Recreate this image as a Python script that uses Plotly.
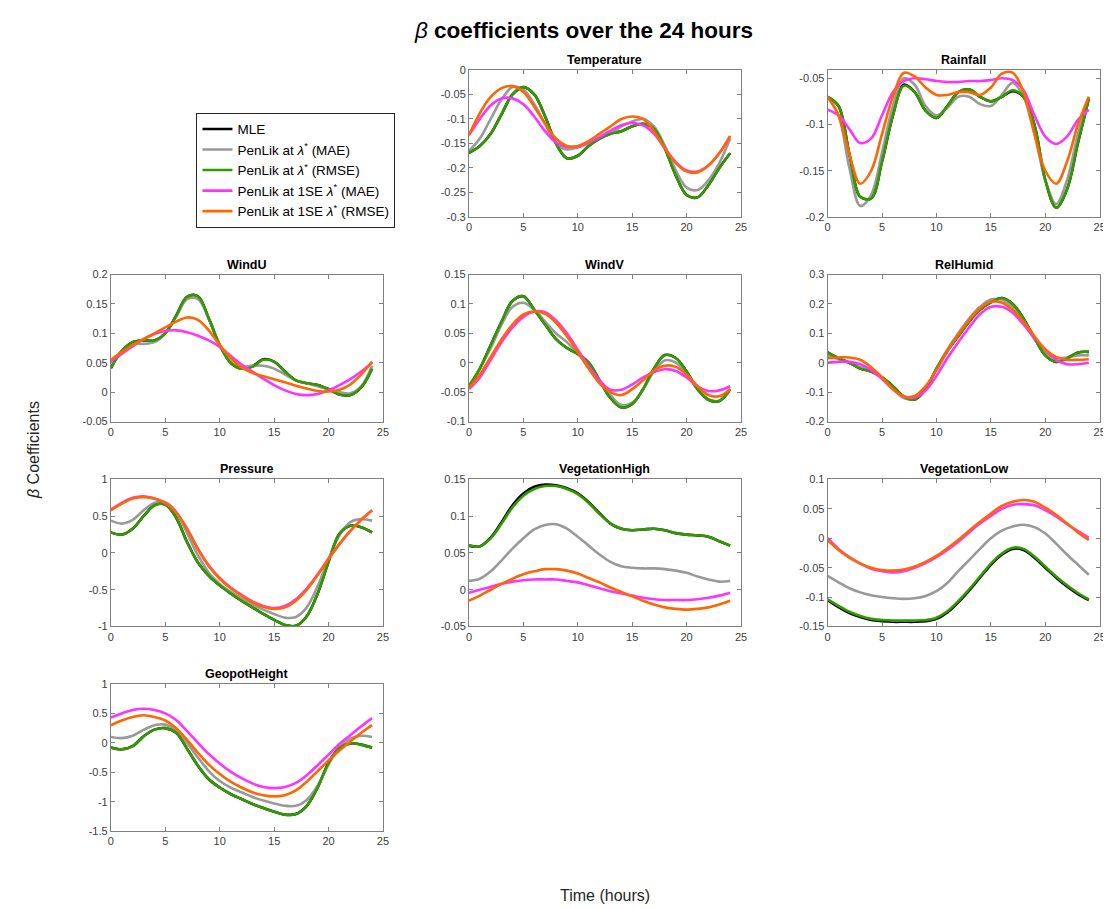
import plotly.graph_objects as go

HOURS = list(range(25))

SERIES_NAMES = ["MLE", "PenLik at <i>λ</i><sup>*</sup> (MAE)", "PenLik at <i>λ</i><sup>*</sup> (RMSE)",
                "PenLik at 1SE <i>λ</i><sup>*</sup> (MAE)", "PenLik at 1SE <i>λ</i><sup>*</sup> (RMSE)"]
SERIES_COLORS = ["#000000", "#999999", "#339900", "#ff33ff", "#ff6600"]

# ---- Temperature
TEMP_MLE = [-0.169,-0.155,-0.13,-0.09,-0.05,-0.035,-0.05,-0.095,-0.15,-0.18,-0.175,-0.155,-0.14,-0.13,-0.125,-0.115,-0.11,-0.12,-0.16,-0.215,-0.255,-0.26,-0.235,-0.2,-0.17]
TEMP_MAE = [-0.165,-0.14,-0.1,-0.06,-0.035,-0.04,-0.07,-0.11,-0.15,-0.162,-0.158,-0.15,-0.14,-0.13,-0.115,-0.105,-0.1,-0.115,-0.155,-0.205,-0.24,-0.245,-0.225,-0.19,-0.14]
TEMP_RMSE = [-0.169,-0.155,-0.13,-0.09,-0.05,-0.035,-0.05,-0.095,-0.15,-0.18,-0.175,-0.155,-0.14,-0.13,-0.125,-0.115,-0.11,-0.12,-0.16,-0.215,-0.255,-0.26,-0.235,-0.2,-0.17]
TEMP_1SE_MAE = [-0.133,-0.1,-0.072,-0.058,-0.058,-0.07,-0.095,-0.125,-0.148,-0.157,-0.156,-0.148,-0.137,-0.124,-0.113,-0.108,-0.113,-0.13,-0.16,-0.188,-0.205,-0.207,-0.195,-0.17,-0.135]
TEMP_1SE_RMSE = [-0.133,-0.088,-0.055,-0.037,-0.033,-0.045,-0.075,-0.11,-0.14,-0.155,-0.155,-0.145,-0.13,-0.115,-0.1,-0.095,-0.1,-0.125,-0.16,-0.19,-0.207,-0.209,-0.195,-0.17,-0.135]
TEMP_TICKS = ["-0.3", "-0.25", "-0.2", "-0.15", "-0.1", "-0.05", "0"]

# ---- Rainfall
RAIN_MLE = [-0.07,-0.08,-0.132,-0.178,-0.18,-0.14,-0.09,-0.057,-0.065,-0.085,-0.093,-0.08,-0.065,-0.062,-0.07,-0.075,-0.07,-0.064,-0.07,-0.1,-0.16,-0.19,-0.17,-0.12,-0.072]
RAIN_MAE = [-0.07,-0.09,-0.147,-0.188,-0.176,-0.13,-0.08,-0.05,-0.057,-0.08,-0.09,-0.082,-0.07,-0.07,-0.078,-0.08,-0.068,-0.055,-0.07,-0.11,-0.16,-0.186,-0.16,-0.11,-0.07]
RAIN_RMSE = [-0.07,-0.08,-0.132,-0.178,-0.18,-0.14,-0.09,-0.058,-0.065,-0.085,-0.093,-0.08,-0.065,-0.062,-0.07,-0.075,-0.07,-0.063,-0.07,-0.1,-0.16,-0.19,-0.17,-0.12,-0.072]
RAIN_1SE_MAE = [-0.084,-0.09,-0.105,-0.12,-0.115,-0.09,-0.065,-0.053,-0.05,-0.051,-0.053,-0.054,-0.054,-0.053,-0.053,-0.052,-0.05,-0.052,-0.063,-0.09,-0.113,-0.121,-0.113,-0.095,-0.084]
RAIN_1SE_RMSE = [-0.07,-0.09,-0.132,-0.164,-0.15,-0.11,-0.07,-0.044,-0.048,-0.06,-0.068,-0.068,-0.065,-0.065,-0.068,-0.06,-0.045,-0.044,-0.065,-0.11,-0.15,-0.164,-0.14,-0.1,-0.07]
RAIN_TICKS = ["-0.2", "-0.15", "-0.1", "-0.05"]

# ---- WindU
WU_MLE = [0.041,0.07,0.085,0.088,0.088,0.1,0.13,0.162,0.163,0.125,0.08,0.05,0.04,0.044,0.056,0.052,0.035,0.02,0.015,0.012,0.005,-0.004,-0.005,0.008,0.04]
WU_MAE = [0.05,0.07,0.082,0.082,0.085,0.1,0.128,0.158,0.158,0.125,0.08,0.05,0.043,0.045,0.045,0.04,0.03,0.02,0.015,0.01,0.004,0.0,-0.002,0.01,0.045]
WU_RMSE = [0.041,0.07,0.085,0.088,0.088,0.1,0.13,0.162,0.163,0.125,0.08,0.05,0.04,0.043,0.055,0.052,0.035,0.02,0.015,0.012,0.005,-0.004,-0.005,0.008,0.04]
WU_1SE_MAE = [0.053,0.065,0.078,0.09,0.099,0.104,0.105,0.102,0.096,0.088,0.077,0.062,0.047,0.035,0.023,0.012,0.003,-0.003,-0.005,-0.003,0.003,0.012,0.022,0.035,0.05]
WU_1SE_RMSE = [0.055,0.068,0.08,0.09,0.1,0.11,0.12,0.127,0.123,0.105,0.08,0.058,0.042,0.033,0.027,0.022,0.017,0.011,0.006,0.002,0.001,0.004,0.013,0.03,0.052]
WU_TICKS = ["-0.05", "0", "0.05", "0.1", "0.15", "0.2"]

# ---- WindV
WV_MLE = [-0.04,-0.01,0.03,0.07,0.105,0.113,0.09,0.065,0.04,0.025,0.015,0.0,-0.03,-0.06,-0.076,-0.07,-0.045,-0.01,0.013,0.008,-0.015,-0.045,-0.063,-0.065,-0.045]
WV_MAE = [-0.04,-0.01,0.025,0.065,0.095,0.102,0.09,0.07,0.05,0.035,0.015,-0.005,-0.03,-0.055,-0.072,-0.068,-0.045,-0.015,0.004,0.0,-0.02,-0.045,-0.062,-0.064,-0.045]
WV_RMSE = [-0.04,-0.01,0.03,0.07,0.105,0.113,0.09,0.065,0.04,0.025,0.015,0.0,-0.03,-0.06,-0.076,-0.07,-0.045,-0.01,0.013,0.008,-0.015,-0.045,-0.063,-0.065,-0.045]
WV_1SE_MAE = [-0.045,-0.025,0.005,0.035,0.06,0.078,0.087,0.086,0.072,0.05,0.022,-0.006,-0.03,-0.046,-0.046,-0.037,-0.025,-0.016,-0.011,-0.014,-0.025,-0.04,-0.048,-0.047,-0.04]
WV_1SE_RMSE = [-0.043,-0.02,0.01,0.04,0.065,0.082,0.087,0.083,0.068,0.045,0.018,-0.01,-0.035,-0.05,-0.055,-0.045,-0.03,-0.013,-0.005,-0.007,-0.02,-0.04,-0.055,-0.057,-0.045]
WV_TICKS = ["-0.1", "-0.05", "0", "0.05", "0.1", "0.15"]

# ---- RelHumid
RH_MLE = [0.035,0.015,0.0,-0.02,-0.03,-0.05,-0.08,-0.115,-0.125,-0.09,-0.02,0.04,0.09,0.14,0.18,0.205,0.22,0.2,0.15,0.085,0.025,0.003,0.015,0.035,0.037]
RH_MAE = [0.025,0.012,0.0,-0.015,-0.03,-0.05,-0.085,-0.12,-0.12,-0.085,-0.02,0.045,0.1,0.15,0.19,0.215,0.215,0.19,0.14,0.08,0.035,0.015,0.018,0.025,0.025]
RH_RMSE = [0.035,0.015,0.0,-0.02,-0.03,-0.05,-0.08,-0.115,-0.125,-0.09,-0.02,0.04,0.09,0.14,0.18,0.205,0.22,0.2,0.15,0.085,0.025,0.003,0.015,0.035,0.037]
RH_1SE_MAE = [0.0,0.003,0.003,-0.005,-0.025,-0.055,-0.09,-0.115,-0.118,-0.095,-0.045,0.015,0.07,0.12,0.165,0.19,0.19,0.17,0.13,0.085,0.045,0.01,-0.005,-0.005,0.0]
RH_1SE_RMSE = [0.015,0.018,0.018,0.01,-0.015,-0.05,-0.09,-0.115,-0.113,-0.08,-0.025,0.04,0.095,0.145,0.185,0.207,0.205,0.18,0.14,0.09,0.045,0.02,0.01,0.01,0.012]
RH_TICKS = ["-0.2", "-0.1", "0", "0.1", "0.2", "0.3"]

# ---- Pressure
PR_MLE = [0.28,0.25,0.33,0.5,0.65,0.66,0.48,0.15,-0.13,-0.31,-0.44,-0.55,-0.65,-0.74,-0.83,-0.91,-0.98,-0.99,-0.86,-0.55,-0.12,0.26,0.37,0.35,0.28]
PR_MAE = [0.44,0.4,0.45,0.58,0.68,0.69,0.56,0.27,-0.03,-0.27,-0.42,-0.53,-0.62,-0.7,-0.77,-0.83,-0.88,-0.87,-0.74,-0.45,-0.08,0.24,0.42,0.46,0.44]
PR_RMSE = [0.28,0.25,0.33,0.5,0.65,0.66,0.48,0.15,-0.13,-0.31,-0.44,-0.55,-0.65,-0.74,-0.83,-0.91,-0.98,-0.99,-0.86,-0.55,-0.12,0.26,0.37,0.35,0.28]
PR_1SE_MAE = [0.59,0.68,0.75,0.77,0.74,0.68,0.55,0.33,0.06,-0.17,-0.34,-0.47,-0.57,-0.66,-0.72,-0.75,-0.72,-0.63,-0.48,-0.29,-0.08,0.12,0.3,0.45,0.58]
PR_1SE_RMSE = [0.58,0.67,0.74,0.76,0.74,0.68,0.55,0.33,0.05,-0.18,-0.35,-0.48,-0.58,-0.67,-0.73,-0.76,-0.74,-0.65,-0.5,-0.3,-0.08,0.12,0.3,0.45,0.58]
PR_TICKS = ["-1", "-0.5", "0", "0.5", "1"]

# ---- VegetationHigh
VH_MLE = [0.06,0.059,0.071,0.092,0.115,0.131,0.14,0.143,0.142,0.138,0.131,0.119,0.104,0.09,0.083,0.081,0.082,0.083,0.081,0.077,0.075,0.074,0.072,0.066,0.06]
VH_MAE = [0.012,0.015,0.025,0.04,0.056,0.07,0.082,0.088,0.089,0.083,0.072,0.06,0.048,0.038,0.032,0.03,0.029,0.029,0.028,0.026,0.023,0.018,0.014,0.011,0.012]
VH_RMSE = [0.06,0.059,0.07,0.09,0.112,0.128,0.137,0.141,0.141,0.137,0.13,0.118,0.103,0.09,0.083,0.081,0.082,0.083,0.081,0.077,0.075,0.074,0.072,0.066,0.06]
VH_1SE_MAE = [-0.004,0.0,0.004,0.008,0.011,0.013,0.014,0.014,0.014,0.012,0.01,0.006,0.002,-0.002,-0.005,-0.008,-0.011,-0.013,-0.014,-0.014,-0.014,-0.013,-0.011,-0.008,-0.004]
VH_1SE_RMSE = [-0.015,-0.008,0.0,0.008,0.015,0.021,0.025,0.028,0.028,0.026,0.022,0.016,0.01,0.003,-0.003,-0.009,-0.015,-0.02,-0.024,-0.026,-0.027,-0.026,-0.024,-0.02,-0.015]
VH_TICKS = ["-0.05", "0", "0.05", "0.1", "0.15"]

# ---- VegetationLow
VL_MLE = [-0.105,-0.117,-0.127,-0.134,-0.139,-0.141,-0.142,-0.142,-0.142,-0.141,-0.137,-0.126,-0.109,-0.089,-0.067,-0.045,-0.028,-0.018,-0.02,-0.033,-0.05,-0.067,-0.082,-0.095,-0.105]
VL_MAE = [-0.064,-0.075,-0.085,-0.092,-0.097,-0.1,-0.102,-0.103,-0.102,-0.098,-0.09,-0.076,-0.056,-0.037,-0.018,0.0,0.013,0.02,0.023,0.019,0.008,-0.009,-0.028,-0.045,-0.062]
VL_RMSE = [-0.104,-0.115,-0.125,-0.132,-0.137,-0.139,-0.14,-0.14,-0.14,-0.139,-0.135,-0.124,-0.107,-0.087,-0.065,-0.043,-0.026,-0.016,-0.018,-0.031,-0.048,-0.065,-0.08,-0.093,-0.104]
VL_1SE_MAE = [0.0,-0.018,-0.032,-0.043,-0.052,-0.056,-0.058,-0.056,-0.05,-0.042,-0.032,-0.02,-0.006,0.01,0.025,0.038,0.05,0.057,0.058,0.056,0.048,0.037,0.024,0.012,0.001]
VL_1SE_RMSE = [-0.003,-0.02,-0.033,-0.043,-0.05,-0.054,-0.055,-0.053,-0.048,-0.04,-0.03,-0.017,-0.003,0.013,0.028,0.042,0.055,0.062,0.065,0.062,0.052,0.04,0.025,0.01,-0.003]
VL_TICKS = ["-0.15", "-0.1", "-0.05", "0", "0.05", "0.1"]

# ---- GeopotHeight
GH_MLE = [-0.08,-0.11,-0.056,0.11,0.225,0.25,0.17,-0.1,-0.39,-0.62,-0.76,-0.87,-0.955,-1.04,-1.107,-1.17,-1.22,-1.21,-1.07,-0.76,-0.34,-0.084,-0.01,-0.03,-0.084]
GH_MAE = [0.1,0.08,0.12,0.22,0.3,0.31,0.22,0.0,-0.25,-0.48,-0.65,-0.76,-0.84,-0.92,-0.98,-1.03,-1.07,-1.07,-0.97,-0.73,-0.37,-0.08,0.07,0.12,0.1]
GH_RMSE = [-0.08,-0.11,-0.056,0.11,0.225,0.25,0.17,-0.1,-0.39,-0.62,-0.76,-0.87,-0.955,-1.04,-1.107,-1.17,-1.22,-1.21,-1.07,-0.76,-0.34,-0.084,-0.01,-0.03,-0.084]
GH_1SE_MAE = [0.43,0.5,0.56,0.58,0.56,0.5,0.39,0.2,0.0,-0.19,-0.35,-0.49,-0.6,-0.69,-0.75,-0.77,-0.75,-0.68,-0.55,-0.38,-0.2,-0.02,0.13,0.28,0.42]
GH_1SE_RMSE = [0.3,0.38,0.44,0.47,0.44,0.38,0.25,0.05,-0.17,-0.37,-0.53,-0.66,-0.76,-0.84,-0.89,-0.91,-0.89,-0.81,-0.66,-0.48,-0.3,-0.13,0.02,0.17,0.3]
GH_TICKS = ["-1.5", "-1", "-0.5", "0", "0.5", "1"]

X_TICKS = ["0", "5", "10", "15", "20", "25"]

PANELS = [
    ("Temperature", [TEMP_MLE, TEMP_MAE, TEMP_RMSE, TEMP_1SE_MAE, TEMP_1SE_RMSE], TEMP_TICKS, (-0.3, 0.0)),
    ("Rainfall", [RAIN_MLE, RAIN_MAE, RAIN_RMSE, RAIN_1SE_MAE, RAIN_1SE_RMSE], RAIN_TICKS, (-0.2, -0.041)),
    ("WindU", [WU_MLE, WU_MAE, WU_RMSE, WU_1SE_MAE, WU_1SE_RMSE], WU_TICKS, (-0.05, 0.2)),
    ("WindV", [WV_MLE, WV_MAE, WV_RMSE, WV_1SE_MAE, WV_1SE_RMSE], WV_TICKS, (-0.1, 0.15)),
    ("RelHumid", [RH_MLE, RH_MAE, RH_RMSE, RH_1SE_MAE, RH_1SE_RMSE], RH_TICKS, (-0.2, 0.3)),
    ("Pressure", [PR_MLE, PR_MAE, PR_RMSE, PR_1SE_MAE, PR_1SE_RMSE], PR_TICKS, (-1.0, 1.0)),
    ("VegetationHigh", [VH_MLE, VH_MAE, VH_RMSE, VH_1SE_MAE, VH_1SE_RMSE], VH_TICKS, (-0.05, 0.15)),
    ("VegetationLow", [VL_MLE, VL_MAE, VL_RMSE, VL_1SE_MAE, VL_1SE_RMSE], VL_TICKS, (-0.15, 0.1)),
    ("GeopotHeight", [GH_MLE, GH_MAE, GH_RMSE, GH_1SE_MAE, GH_1SE_RMSE], GH_TICKS, (-1.5, 1.0)),
]
# tile slots (row, col) in a 4x3 grid; tile (0,0) holds the legend
SLOTS = [(0, 1), (0, 2), (1, 0), (1, 1), (1, 2), (2, 0), (2, 1), (2, 2), (3, 0)]

W, H = 1111, 908
COL_LEFT = [100.7, 461.7, 823.3]
AX_W = 274.3
ROW_TOP = [56.7, 264.0, 471.7, 679.0]
AX_H = 149.0

FONT = "Liberation Sans, Arial, Helvetica, sans-serif"
AXIS_COLOR = "#808080"
TICK_FONT = dict(family=FONT, size=11, color="#404040")

fig = go.Figure()
layout = {}
annotations = []

for i, ((name, series, yticks, yrange), (r, c)) in enumerate(zip(PANELS, SLOTS)):
    k = i + 1
    xa = "x" if k == 1 else f"x{k}"
    ya = "y" if k == 1 else f"y{k}"
    x0 = COL_LEFT[c] / W
    x1 = (COL_LEFT[c] + AX_W) / W
    y1 = 1 - ROW_TOP[r] / H
    y0 = 1 - (ROW_TOP[r] + AX_H) / H
    for j, vals in enumerate(series):
        fig.add_trace(go.Scatter(
            x=HOURS, y=vals, mode="lines", name=SERIES_NAMES[j],
            line=dict(color=SERIES_COLORS[j], width=2.6, shape="spline", smoothing=1.0),
            xaxis=xa, yaxis=ya, showlegend=(i == 0), legendrank=j + 1,
        ))
    common = dict(showline=True, linecolor=AXIS_COLOR, linewidth=1, mirror="ticks",
                  ticks="inside", ticklen=4, tickcolor=AXIS_COLOR, tickwidth=1,
                  showgrid=False, zeroline=False, tickfont=TICK_FONT)
    layout["xaxis" if k == 1 else f"xaxis{k}"] = dict(
        domain=[x0, x1], anchor=ya, range=[0, 25],
        tickmode="array", tickvals=[float(t) for t in X_TICKS], ticktext=X_TICKS, **common)
    layout["yaxis" if k == 1 else f"yaxis{k}"] = dict(
        domain=[y0, y1], anchor=xa, range=list(yrange),
        tickmode="array", tickvals=[float(t) for t in yticks], ticktext=yticks, **common)
    annotations.append(dict(
        text=f"<b>{name}</b>", x=(x0 + x1) / 2, y=y1, xref="paper", yref="paper",
        xanchor="center", yanchor="bottom", yshift=1, showarrow=False,
        font=dict(family=FONT, size=12.5, color="#000000")))

annotations.append(dict(
    text="<i>β</i><b> coefficients over the 24 hours</b>", x=577 / W, y=1 - 17 / H,
    xref="paper", yref="paper", xanchor="center", yanchor="middle", showarrow=False,
    font=dict(family=FONT, size=22.5, color="#000000")))
annotations.append(dict(
    text="Time (hours)", x=599 / W, y=1 - 893 / H, xref="paper", yref="paper",
    xanchor="center", yanchor="middle", showarrow=False,
    font=dict(family=FONT, size=16, color="#262626")))
annotations.append(dict(
    text="<i>β</i> Coefficients", x=22 / W, y=1 - 442 / H, xref="paper", yref="paper",
    xanchor="center", yanchor="middle", showarrow=False, textangle=-90,
    font=dict(family=FONT, size=16, color="#262626")))

fig.update_layout(
    width=W, height=H, margin=dict(l=0, r=0, t=0, b=0),
    paper_bgcolor="white", plot_bgcolor="white",
    annotations=annotations,
    legend=dict(x=187 / W, y=1 - 100 / H, xanchor="left", yanchor="top",
                bordercolor="#262626", borderwidth=1, bgcolor="white",
                font=dict(family=FONT, size=13.5, color="#000000"),
                itemwidth=30, tracegroupgap=0, traceorder="normal"),
    **layout,
)

fig.write_html("out.html")
